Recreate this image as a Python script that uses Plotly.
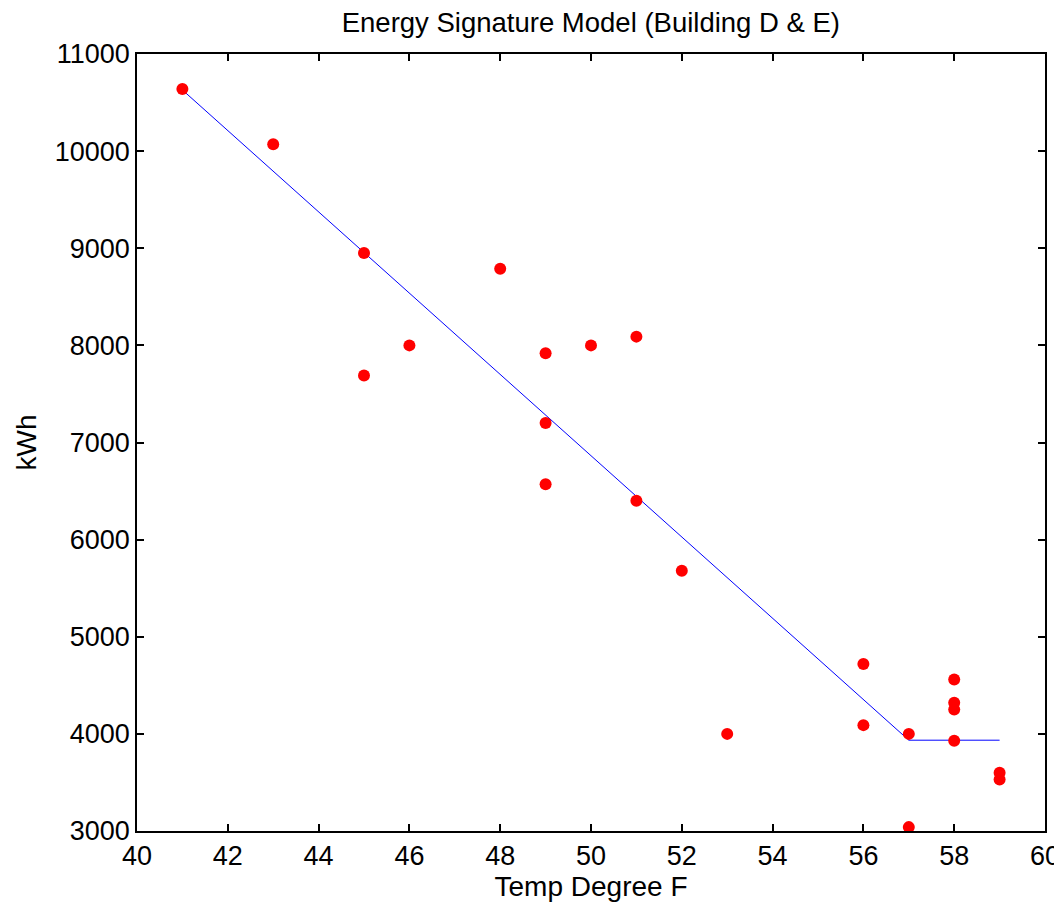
import plotly.graph_objects as go

# measured data (Temp F vs monthly kWh)
temp = [41, 43, 45, 45, 46, 48, 49, 49, 49, 50, 51, 51, 52, 53,
        56, 56, 57, 57, 58, 58, 58, 58, 59, 59]
kwh = [10640, 10070, 8950, 7690, 8000, 8790, 7920, 7200, 6570, 8000, 8090, 6400, 5680, 4000,
       4720, 4090, 4000, 3040, 4560, 4320, 4250, 3930, 3600, 3530]

# fitted change-point model
fit_x = [41, 57, 59]
fit_y = [10630, 3935, 3935]

font = "Liberation Sans, Arial, sans-serif"

fig = go.Figure()
fig.add_trace(go.Scatter(x=fit_x, y=fit_y, mode="lines",
                         line=dict(color="#0000ff", width=1), showlegend=False))
fig.add_trace(go.Scatter(x=temp, y=kwh, mode="markers",
                         marker=dict(color="#ff0000", size=12), showlegend=False))

axis_common = dict(showgrid=False, zeroline=False, showline=True, linecolor="black",
                   linewidth=1.5, mirror="allticks", ticks="inside", ticklen=7,
                   tickcolor="black", tickwidth=1.5, automargin=False,
                   tickformat="d",
                   tickfont=dict(family=font, size=27, color="black"))

# page body adds an 8px offset, so the figure is a bit smaller than the window
fig.update_layout(
    width=1054, height=905,
    margin=dict(l=129, r=17, t=46, b=82),
    plot_bgcolor="white", paper_bgcolor="white",
    title=dict(text="Energy Signature Model (Building D & E)", x=0.553, xanchor="center",
               y=0.984, yanchor="middle", font=dict(family=font, size=27.5, color="black")),
    xaxis=dict(range=[40, 60], dtick=2, tick0=40,
               title=dict(text="Temp Degree F", standoff=4,
                          font=dict(family=font, size=28, color="black")),
               **axis_common),
    yaxis=dict(range=[3000, 11000], dtick=1000, tick0=3000,
               title=dict(text="kWh", standoff=10,
                          font=dict(family=font, size=28, color="black")),
               **axis_common),
)

fig.write_html("out.html")
